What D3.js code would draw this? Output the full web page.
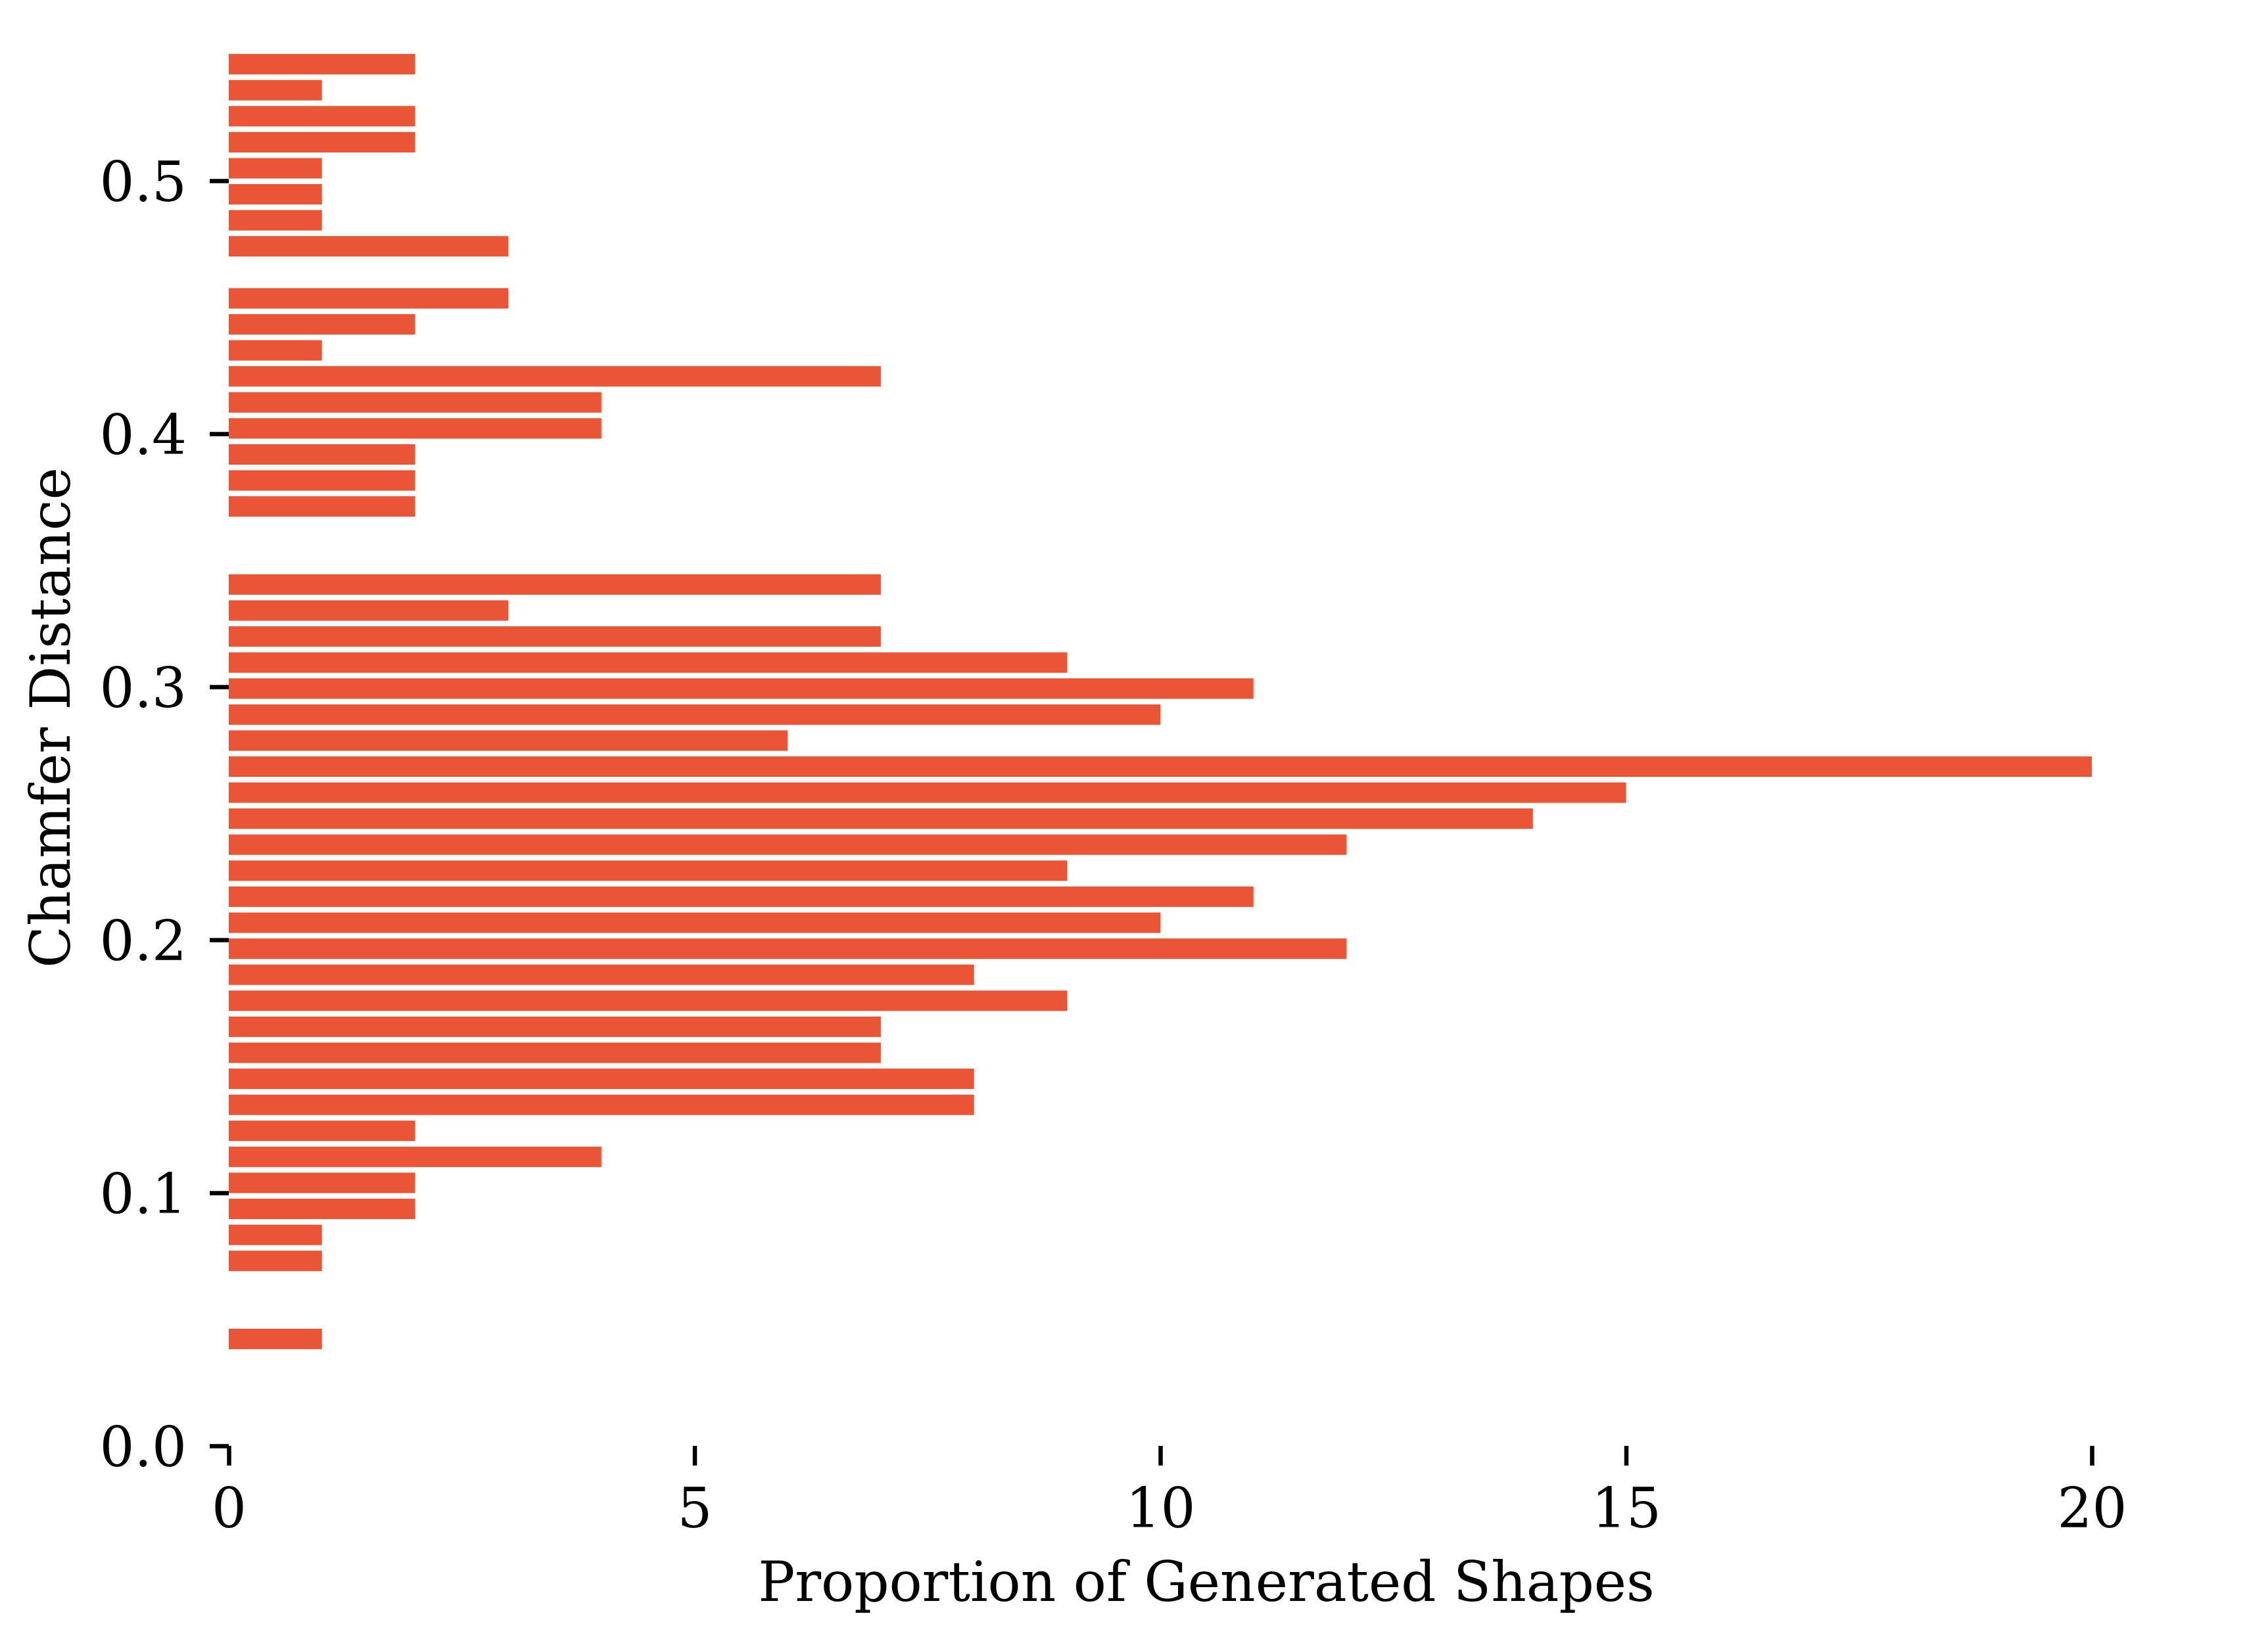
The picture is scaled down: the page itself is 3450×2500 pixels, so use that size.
<!DOCTYPE html>
<html>
<head>
<meta charset="utf-8">
<script src="https://cdn.jsdelivr.net/npm/d3@7"></script>
<style>
  html, body { margin: 0; padding: 0; background: #ffffff; }
  svg { display: block; }
</style>
</head>
<body>
<div id="chart"></div>
<script>
// ---- Data ----
// Histogram of chamfer distances: 50 equal bins between binMin and binMax.
const binMin = 0.0371;
const binMax = 0.5512;
// counts for bins 0 (lowest distance) .. 49 (highest distance)
const counts = [
  1, 0, 0, 1, 1, 2, 2, 4, 2, 8,
  8, 7, 7, 9, 8, 12, 10, 11, 9, 12,
  14, 15, 20, 6, 10, 11, 9, 7, 3, 7,
  0, 0, 2, 2, 2, 4, 4, 7, 1, 2,
  3, 0, 3, 1, 1, 1, 2, 2, 1, 2
];
const yTickValues = [0.0, 0.1, 0.2, 0.3, 0.4, 0.5];
const xTickValues = [0, 5, 10, 15, 20];
const xLabel = "Proportion of Generated Shapes";
const yLabel = "Chamfer Distance";

// ---- Layout ----
const W = 3450, H = 2500;
const FONT = "'DejaVu Serif', serif";
const FS = 83.3;
const barColor = "#e95535";

const svg = d3.select("#chart").append("svg")
  .attr("width", W).attr("height", H)
  .style("background", "#ffffff");

const x = d3.scaleLinear().domain([0, 21]).range([348, 348 + 21 * 141.7]);
const y = d3.scaleLinear().domain([0, 0.5]).range([2200, 275]);

const nBins = counts.length;
const bw = (binMax - binMin) / nBins;
const bins = counts.map((c, i) => ({ lo: binMin + i * bw, hi: binMin + (i + 1) * bw, c }));

const gap = 8.5;
svg.append("g").selectAll("rect")
  .data(bins.filter(d => d.c > 0))
  .join("rect")
  .attr("x", x(0))
  .attr("y", d => y(d.hi) + gap / 2)
  .attr("width", d => x(d.c) - x(0))
  .attr("height", d => y(d.lo) - y(d.hi) - gap)
  .attr("fill", barColor);

// Y axis
const yAxis = svg.append("g")
  .attr("transform", `translate(${x(0)},0)`)
  .call(d3.axisLeft(y).tickValues(yTickValues).tickFormat(d3.format(".1f")).tickSize(29).tickPadding(35));
yAxis.select(".domain").remove();
yAxis.selectAll(".tick line").attr("stroke", "#000").attr("stroke-width", 6.5);
yAxis.selectAll(".tick text")
  .attr("font-family", FONT).attr("font-size", FS).attr("fill", "#000")
  .attr("dy", "0.36em");

// X axis
const xAxis = svg.append("g")
  .attr("transform", `translate(0,${y(0)})`)
  .call(d3.axisBottom(x).tickValues(xTickValues).tickFormat(d3.format("d")).tickSize(30).tickPadding(35));
xAxis.select(".domain").remove();
xAxis.selectAll(".tick line").attr("stroke", "#000").attr("stroke-width", 6.5);
xAxis.selectAll(".tick text")
  .attr("font-family", FONT).attr("font-size", FS).attr("fill", "#000");

// Axis labels
svg.append("text")
  .attr("x", 1835).attr("y", 2436)
  .attr("text-anchor", "middle")
  .attr("font-family", FONT).attr("font-size", FS).attr("fill", "#000")
  .text(xLabel);

svg.append("text")
  .attr("transform", "translate(106,1092) rotate(-90)")
  .attr("text-anchor", "middle")
  .attr("font-family", FONT).attr("font-size", FS).attr("fill", "#000")
  .text(yLabel);
</script>
</body>
</html>
